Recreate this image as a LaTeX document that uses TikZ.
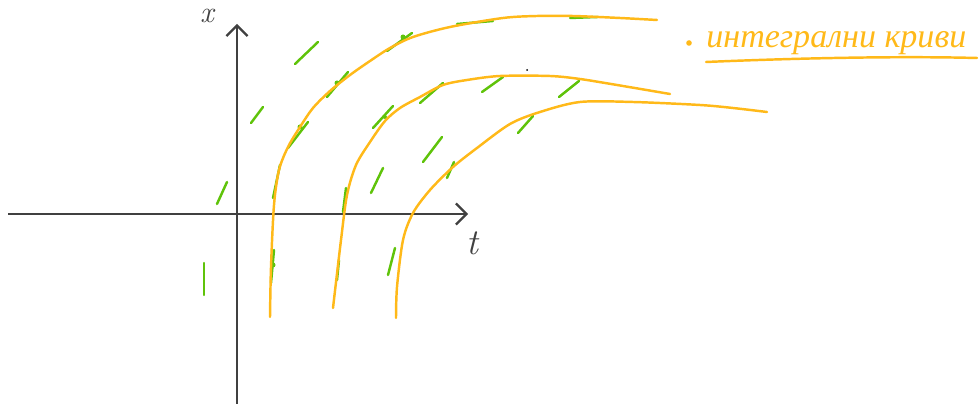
\documentclass[tikz,border=0pt]{standalone}
\usepackage{fontspec}
\newfontfamily\cyrhand{Liberation Serif}
\usetikzlibrary{arrows.meta}
\definecolor{axisgray}{RGB}{64,64,64}
\definecolor{curveor}{RGB}{255,185,25}
\definecolor{slopegr}{RGB}{95,195,10}
\tikzset{
  axisline/.style={draw=axisgray,line width=1.3pt,-{Straight Barb[length=6pt,width=12pt,line width=1.3pt]}},
  intcurve/.style={draw=curveor,line width=1.4pt,line cap=round},
  slopeseg/.style={draw=slopegr,line width=1.4pt,line cap=round},
}
\begin{document}
\begin{tikzpicture}[x=0.02cm,y=-0.02cm]
\useasboundingbox (0,0) rectangle (979,404);
% axes
\coordinate (tstart) at (8,214);
\coordinate (tend) at (468,214);
\coordinate (xstart) at (237,404);
\coordinate (xend) at (237,24);
\draw[axisline] (tstart) -- (tend);
\draw[axisline] (xstart) -- (xend);
\node[text=axisgray,font=\LARGE\itshape,inner sep=0pt] (xlab) at (207,16) {x};
\node[text=axisgray,font=\huge\itshape] (tlab) at (472,243) {t};
% slope field
\foreach \a/\b in {
 {(295,64)}/{(318,42)}, {(251,123)}/{(263,107)}, {(217,204)}/{(227,182)},
 {(204,295)}/{(204,263)}, {(327,97)}/{(348,72)}, {(288,148)}/{(308,122)},
 {(273,198)}/{(280,165)}, {(271,283)}/{(274,250)}, {(387,51)}/{(412,33)},
 {(373,128)}/{(393,106)}, {(420,103)}/{(443,83)}, {(423,162)}/{(442,137)},
 {(371,193)}/{(383,168)}, {(343,212)}/{(346,188)}, {(388,275)}/{(395,248)},
 {(337,280)}/{(339,260)}, {(447,178)}/{(454,162)}, {(457,24)}/{(493,21)},
 {(570,18)}/{(598,17)}, {(482,92)}/{(503,77)}, {(559,97)}/{(579,81)},
 {(518,133)}/{(533,116)}}
 \draw[slopeseg] \a -- \b;
\fill[slopegr] (273,265) circle (2.5);
\fill[slopegr] (300,127) circle (2.5);
\fill[slopegr] (337,83) circle (2.5);
\fill[slopegr] (403,37) circle (2.5);
\fill[slopegr] (385,117) circle (2);
% integral curves
\draw[intcurve] plot[smooth,tension=0.5] coordinates {
 (270,317) (271,267) (274,205) (279,170) (288,147) (300,127) (313,108)
 (330,91) (350,75) (370,61) (390,48) (413,37) (450,27) (503,18) (537,16)
 (573,16) (620,18) (657,20)};
\draw[intcurve] plot[smooth,tension=0.5] coordinates {
 (333,308) (341,240) (347,195) (356,165) (370,142) (385,121) (400,108) (420,97)
 (443,85) (467,80) (500,76) (550,76) (580,79) (617,85) (670,94)};
\draw[intcurve] plot[smooth,tension=0.5] coordinates {
 (396,318) (397,287) (403,240) (413,213) (430,190) (453,167) (477,148)
 (510,124) (540,112) (580,102) (633,102) (700,105) (733,108) (767,112)};
% stray dot
\fill[black] (527,70) circle (1);
% label
\fill[curveor] (689,43) circle (2.8);
\node[text=curveor,anchor=base west,inner sep=0pt] (lab) at (706,48)
  {\resizebox{5.2cm}{!}{\cyrhand\itshape интегрални криви}};
\draw[intcurve] (706,62) .. controls (800,58) and (900,56) .. (977,58);
\end{tikzpicture}
\end{document}
